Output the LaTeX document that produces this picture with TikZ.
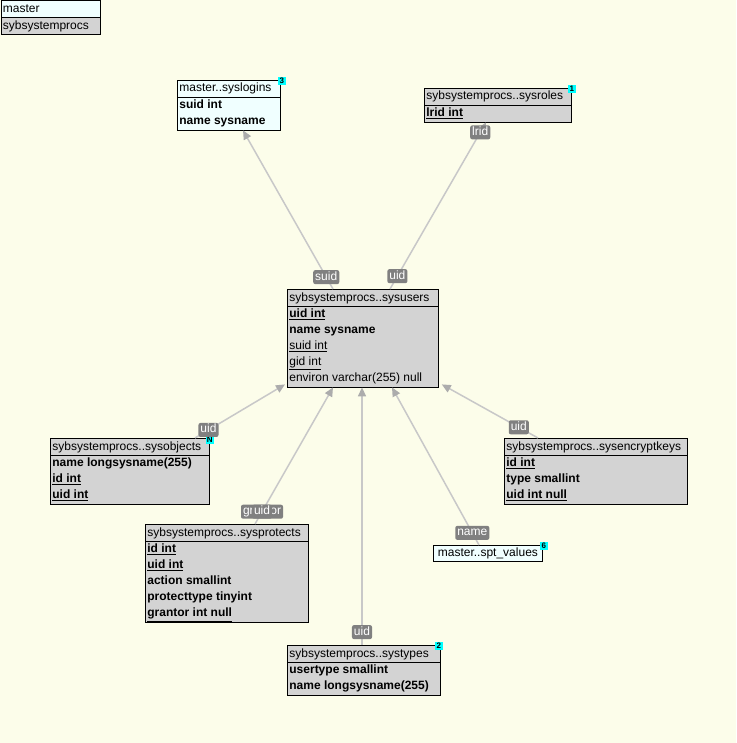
\documentclass[tikz,border=0pt]{standalone}
\usepackage{fontspec}
\setmainfont{Liberation Sans}
\usetikzlibrary{shapes.multipart,arrows.meta}

\definecolor{bgcol}{RGB}{252,253,234}
\definecolor{tblgray}{RGB}{211,211,211}
\definecolor{mastercol}{RGB}{240,255,255}
\definecolor{fkcol}{RGB}{200,200,200}
\definecolor{fktip}{RGB}{172,172,172}
\definecolor{lblgray}{RGB}{128,128,128}
\definecolor{badgecol}{RGB}{0,255,255}

\tikzset{
  tbl/.style={rectangle split, rectangle split parts=2, rectangle split part align={left},
    draw=black, line width=0.8pt, inner xsep=2pt, inner ysep=0pt, align=left,
    anchor=north west, font=\fontsize{12}{16}\selectfont},
  tblone/.style={draw=black, line width=0.8pt, inner xsep=2pt, inner ysep=0pt,
    anchor=north west, font=\fontsize{12}{16}\selectfont},
  badge/.style={fill=badgecol, inner sep=0pt, minimum size=8pt, font=\fontsize{8}{8}\bfseries},
  fk/.style={draw=fkcol, line width=1.5pt, -{Triangle[length=9pt,width=8pt,color=fktip]}},
  fklabel/.style={fill=lblgray, text=white, rounded corners=2pt, inner xsep=2pt, inner ysep=1.5pt,
    text height=8.5pt, text depth=2.5pt, font=\fontsize{12}{12}\selectfont}
}

\begin{document}
\begin{tikzpicture}[x=1pt,y=-1pt]
    \fill[bgcol] (0,0) rectangle (736,743);
    \useasboundingbox (0,0) rectangle (736,743);

    % legend
    \node[tbl, rectangle split part fill={mastercol,tblgray},
      minimum width=99pt] (legend) at (0.5,0.5)
      {\strut master \nodepart{two} \strut sybsystemprocs};

    % tables
    \node[tbl, fill=mastercol, minimum width=103pt] (logins) at (177,80)
      {\strut master..syslogins
       \nodepart{two} \strut\textbf{suid int}\\ \strut\textbf{name sysname}};
    \node[badge] (loginsno) at ([xshift=1pt,yshift=-1pt]logins.north east) {3};

    \node[tbl, fill=tblgray, minimum width=147pt] (roles) at (424,88)
      {\strut sybsystemprocs..sysroles
       \nodepart{two} \strut\textbf{\underline{lrid int}}};
    \node[badge] (rolesno) at ([yshift=-1pt]roles.north east) {1};

    \node[tbl, fill=tblgray, minimum width=151pt] (users) at (287,289)
      {\strut sybsystemprocs..sysusers
       \nodepart{two} \strut\textbf{\underline{uid int}}\\ \strut\textbf{name sysname}\\
       \strut\underline{suid int}\\ \strut\underline{gid int}\\ \strut environ varchar(255) null};

    \node[tbl, fill=tblgray, minimum width=159pt] (objects) at (50,438)
      {\strut sybsystemprocs..sysobjects
       \nodepart{two} \strut\textbf{name longsysname(255)}\\ \strut\textbf{\underline{id int}}\\
       \strut\textbf{\underline{uid int}}};
    \node[badge] (objectsno) at ([yshift=-2pt]objects.north east) {N};

    \node[tbl, fill=tblgray, minimum width=183pt] (encrypt) at (504,438)
      {\strut sybsystemprocs..sysencryptkeys
       \nodepart{two} \strut\textbf{\underline{id int}}\\ \strut\textbf{type smallint}\\
       \strut\textbf{\underline{uid int null}}};

    \node[tbl, fill=tblgray, minimum width=163pt] (protects) at (145,524)
      {\strut sybsystemprocs..sysprotects
       \nodepart{two} \strut\textbf{\underline{id int}}\\ \strut\textbf{\underline{uid int}}\\
       \strut\textbf{action smallint}\\ \strut\textbf{protecttype tinyint}\\
       \strut\textbf{\underline{grantor int null}}};

    \node[tblone, fill=mastercol, minimum width=109pt] (sptvalues) at (433,545)
      {\strut master..spt\_values};
    \node[badge] (sptno) at ([xshift=1pt,yshift=-1pt]sptvalues.north east) {6};

    \node[tbl, fill=tblgray, minimum width=153pt] (types) at (287,645)
      {\strut sybsystemprocs..systypes
       \nodepart{two} \strut\textbf{usertype smallint}\\ \strut\textbf{name longsysname(255)}};
    \node[badge] (typesno) at ([xshift=-2pt,yshift=-1pt]types.north east) {2};

    % foreign keys
    \draw[fk] ([xshift=46pt]users.north west) -- node[fklabel, pos=.075] (lsuid) {suid}
      ([xshift=66pt]logins.south west);
    \draw[fk] ([xshift=103pt]users.north west) -- node[fklabel, pos=.077] (luid) {uid}
      node[fklabel, pos=.94] (llrid) {lrid} ([xshift=62pt]roles.south west);
    \draw[fk] ([xshift=145pt]objects.north west) -- node[fklabel, pos=.15] (lobjuid) {uid}
      ([xshift=-2pt,yshift=3pt]users.south west);
    \draw[fk] ([xshift=110pt]protects.north west) -- node[fklabel, pos=.09] (lgrantor) {grantor}
      node[fklabel, pos=.09] (lprotuid) {uid} ([xshift=46pt]users.south west);
    \draw[fk] ([xshift=75pt]types.north west) -- node[fklabel, pos=.05] (ltypesuid) {uid}
      ([xshift=75pt]users.south west);
    \draw[fk] ([xshift=46pt]sptvalues.north west) -- node[fklabel, pos=.077] (lname) {name}
      ([xshift=105pt]users.south west);
    \draw[fk] ([xshift=34pt]encrypt.north west) -- node[fklabel, pos=.2] (lencuid) {uid}
      ([xshift=3pt,yshift=3pt]users.south east);
\end{tikzpicture}
\end{document}
